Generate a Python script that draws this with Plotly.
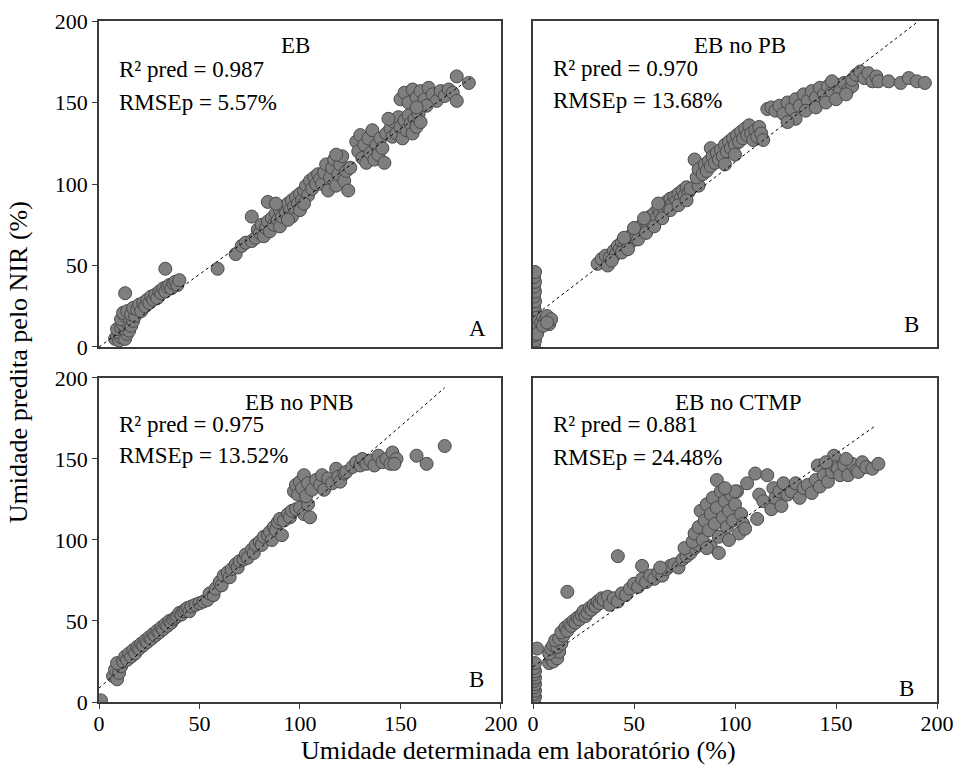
import plotly.graph_objects as go

# ---------------- data ----------------
# Panel A: EB
xa = [8,9,10,11,12,10,13,14,9,11,13,15,12,14,16,11,13,15,17,12,14,16,18,
      13,17,19,20,21,22,23,24,25,26,27,28,29,30,31,32,33,34,35,36,37,38,39,40,
      33,59,68,71,73,76,76,
      78,79,80,81,82,83,84,84,85,86,87,88,89,90,90,91,92,93,94,95,96,96,97,98,99,100,100,101,102,103,104,105,106,107,108,109,110,88,94,102,
      111,112,113,114,115,116,117,118,119,120,121,122,123,124,125,118,
      128,129,130,131,132,133,134,135,136,137,138,139,140,141,142,143,
      145,146,147,148,149,150,151,152,153,154,155,156,157,158,159,160,144,
      150,152,154,156,158,160,162,164,166,168,170,172,174,176,178,178,184,163,158]
ya = [5,7,4,6,8,9,5,8,11,12,11,10,14,15,13,17,19,18,16,21,22,20,19,
      33,24,23,26,22,27,25,29,27,31,29,32,30,34,33,36,34,37,38,36,39,40,38,41,
      48,48,57,62,64,65,80,
      67,72,70,75,68,73,77,89,71,79,75,82,78,84,74,80,86,82,88,84,90,80,86,92,88,94,84,90,96,99,93,102,97,104,100,106,103,88,78,88,
      100,107,112,96,104,110,115,99,106,112,117,102,108,96,110,118,
      126,120,130,116,124,113,128,119,133,115,124,118,128,122,113,131,
      134,129,138,131,141,135,128,139,133,142,137,131,140,135,143,138,140,
      152,156,150,158,153,157,152,159,155,151,157,154,158,156,151,166,162,148,147]

# Panel B: EB no PB
xb = [0.5,1,0.5,1,0.5,1.5,0.5,1,0.5,1,0.5,1,0.5,1,0.5,1,2,2,2,
      4,5,6,7,8,9,5,7,
      32,34,36,38,40,41,42,43,44,45,46,47,48,49,50,51,52,53,54,55,56,57,58,59,60,61,62,63,64,65,66,67,68,69,70,71,72,73,74,75,76,77,78,
      37,39,44,47,52,56,60,64,68,72,76,45,50,55,62,
      82,80,
      81,82,84,85,86,87,88,88,89,90,91,92,93,94,95,96,97,98,99,100,101,102,103,104,105,106,107,108,109,110,111,112,113,114,95,100,
      116,118,120,122,124,126,128,130,132,134,136,138,140,142,144,146,148,150,152,154,156,158,130,135,140,145,150,155,126,148,
      158,160,162,164,166,168,170,
      171,176,182,186,190,194]
yb = [1,4,7,10,13,16,19,22,25,28,31,34,37,40,43,46,12,18,8,
      15,18,16,19,14,17,13,15,
      51,54,56,55,59,57,62,60,64,61,66,63,68,65,70,67,73,70,75,72,78,75,80,77,82,79,85,82,87,84,89,86,91,88,92,90,94,91,96,93,98,95,97,
      50,53,58,60,66,70,74,79,84,87,90,67,73,79,88,
      99,115,
      104,109,106,112,108,114,111,122,117,113,119,115,121,117,124,120,126,122,128,124,130,126,132,128,134,130,136,131,127,133,129,135,131,127,112,118,
      146,147,145,148,143,150,146,152,148,155,151,157,153,159,155,160,156,161,157,162,158,160,140,145,147,150,152,155,138,163,
      164,167,169,165,168,163,166,
      163,163,162,165,163,162]

# Panel C: EB no PNB
xc = [1,
      7,8,9,10,11,9,12,13,14,15,16,17,18,19,20,21,22,23,24,25,26,27,28,29,30,31,32,33,34,35,36,37,38,39,40,41,42,43,44,45,46,48,50,52,54,55,57,58,60,61,62,64,65,66,68,69,70,72,73,74,76,77,78,80,81,82,84,85,86,87,88,89,90,91,92,94,95,96,98,100,102,104,105,
      97,98,99,100,101,102,103,104,106,108,110,111,112,114,116,118,119,120,122,123,
      126,128,130,131,133,135,137,139,141,143,145,146,148,147,
      158,163,172]
yc = [1,
      16,20,14,18,22,24,25,28,26,30,28,32,30,34,33,36,35,38,37,40,39,42,41,44,43,46,45,48,47,50,49,51,52,53,55,54,56,57,58,56,59,60,61,62,63,67,66,70,74,72,78,80,77,82,85,83,87,88,91,89,94,92,97,99,97,102,103,105,100,108,106,111,113,103,112,116,114,118,119,120,116,122,114,
      130,134,128,136,132,140,127,135,131,137,134,140,131,138,135,144,139,136,141,142,
      145,148,146,150,147,149,146,152,148,150,147,154,150,147,
      152,147,158]

# Panel D: EB no CTMP
xd = [0.5,1,0.5,1,0.5,1,0.5,1,0.5,1,0.5,1,2,
      8,9,10,11,12,13,8,9,10,12,14,11,13,15,
      17,
      14,16,17,18,19,20,21,22,23,24,25,26,27,28,29,30,31,32,33,34,35,37,38,40,42,44,46,42,
      48,50,52,54,54,56,58,60,62,64,66,68,70,72,74,63,
      76,78,80,82,75,79,
      80,82,83,84,85,86,87,88,89,90,91,91,92,93,94,95,96,97,98,99,100,101,102,103,104,105,100,95,88,92,86,97,
      106,110,111,112,114,116,118,119,120,122,123,124,126,128,130,132,134,136,138,140,141,142,144,146,148,149,150,151,152,154,156,158,160,161,163,165,168,171,155,145]
yd = [1,3,5,7,9,11,13,15,17,19,21,24,33,
      24,27,25,29,27,31,30,33,35,34,36,38,39,41,
      68,
      43,46,44,48,47,50,49,52,51,54,56,53,55,58,57,60,59,62,61,64,63,65,60,64,62,67,66,90,
      70,73,71,76,84,74,78,76,80,78,82,84,85,83,88,83,
      90,92,95,97,95,99,
      104,108,118,100,112,122,106,116,126,110,137,120,102,130,114,124,108,118,128,112,122,130,104,116,110,107,130,132,96,92,95,100,
      135,141,113,128,124,140,119,132,126,130,121,135,128,130,135,126,132,134,129,137,146,133,140,136,142,152,145,144,140,146,140,147,143,142,148,145,144,147,150,148]

# dashed fit lines (endpoints)
line_a_x, line_a_y = [0, 185], [0, 165]
line_b_x, line_b_y = [0, 191], [18.4, 200]
line_c_x, line_c_y = [0, 172], [8.6, 194]
line_d_x, line_d_y = [0, 169], [21.6, 170]

titles = ["EB", "EB no PB", "EB no PNB", "EB no CTMP"]
r2_texts = ["R² pred = 0.987", "R² pred = 0.970", "R² pred = 0.975", "R² pred = 0.881"]
rmse_texts = ["RMSEp = 5.57%", "RMSEp = 13.68%", "RMSEp = 13.52%", "RMSEp = 24.48%"]
letters = ["A", "B", "B", "B"]
tick_vals = [0, 50, 100, 150, 200]
tick_text = ["0", "50", "100", "150", "200"]

FONT = "Liberation Serif"
fig = go.Figure()

panels = [(xa, ya, line_a_x, line_a_y, "x", "y"),
          (xb, yb, line_b_x, line_b_y, "x2", "y2"),
          (xc, yc, line_c_x, line_c_y, "x3", "y3"),
          (xd, yd, line_d_x, line_d_y, "x4", "y4")]

for px, py, lx, ly, xr, yr in panels:
    fig.add_trace(go.Scatter(x=px, y=py, mode="markers", xaxis=xr, yaxis=yr,
                             marker=dict(size=13, color="#7f7f7f",
                                         line=dict(color="#4a4a4a", width=1)),
                             showlegend=False, cliponaxis=True))
    fig.add_trace(go.Scatter(x=lx, y=ly, mode="lines", xaxis=xr, yaxis=yr,
                             line=dict(color="black", width=1, dash="3px,3px"),
                             showlegend=False))

xdom_l, xdom_r = [0, 0.4797], [0.5179, 1]
ydom_t, ydom_b = [0.5213, 1], [0, 0.4758]

def ax(domain, anchor, show_ticks, is_x=False):
    d = dict(domain=domain, anchor=anchor, range=[0, 200], showgrid=False, zeroline=False,
             showline=True, mirror=True, linecolor="#3a3a3a", linewidth=1.5,
             tickvals=tick_vals, ticktext=tick_text,
             tickfont=dict(family=FONT, size=22, color="black"))
    if show_ticks:
        d.update(ticks="outside", ticklen=5, tickcolor="#3a3a3a", tickwidth=1.2, showticklabels=True)
        if is_x:
            d.update(ticklabelstandoff=-4)
    else:
        d.update(ticks="", showticklabels=False)
    return d

fig.update_layout(
    width=955, height=767,
    margin=dict(l=99, r=18, t=21, b=65, autoexpand=False),
    plot_bgcolor="white", paper_bgcolor="white",
    xaxis=ax(xdom_l, "y", False), yaxis=ax(ydom_t, "x", True),
    xaxis2=ax(xdom_r, "y2", False), yaxis2=ax(ydom_t, "x2", False),
    xaxis3=ax(xdom_l, "y3", True, True), yaxis3=ax(ydom_b, "x3", True),
    xaxis4=ax(xdom_r, "y4", True, True), yaxis4=ax(ydom_b, "x4", False),
    font=dict(family=FONT, color="black"),
)

title_pos = [(98, 185), (102.5, 185), (100, 185), (101.5, 185)]
r2_y = [170, 171, 171, 171]
rm_y = [150, 151.5, 152, 151]
letter_pos = [(188.5, 11.5), (187.5, 13.5), (188, 13.6), (185, 8.6)]
refs = [("x", "y"), ("x2", "y2"), ("x3", "y3"), ("x4", "y4")]

for i, (xr, yr) in enumerate(refs):
    fig.add_annotation(x=title_pos[i][0], y=title_pos[i][1], xref=xr, yref=yr, text=titles[i],
                       showarrow=False, xanchor="center", yanchor="middle",
                       font=dict(family=FONT, size=23, color="black"))
    fig.add_annotation(x=9, y=r2_y[i], xref=xr, yref=yr, text=r2_texts[i],
                       showarrow=False, xanchor="left", yanchor="middle",
                       font=dict(family=FONT, size=23, color="black"))
    fig.add_annotation(x=9, y=rm_y[i], xref=xr, yref=yr, text=rmse_texts[i],
                       showarrow=False, xanchor="left", yanchor="middle",
                       font=dict(family=FONT, size=23, color="black"))
    fig.add_annotation(x=letter_pos[i][0], y=letter_pos[i][1], xref=xr, yref=yr, text=letters[i],
                       showarrow=False, xanchor="center", yanchor="middle",
                       font=dict(family=FONT, size=23, color="black"))

fig.add_annotation(x=0.5, y=-0.0719, xref="paper", yref="paper",
                   text="Umidade determinada em laboratório (%)", showarrow=False,
                   xanchor="center", yanchor="middle",
                   font=dict(family=FONT, size=26, color="black"))
fig.add_annotation(x=-0.0967, y=0.499, xref="paper", yref="paper",
                   text="Umidade predita pelo NIR (%)", showarrow=False, textangle=-90,
                   xanchor="center", yanchor="middle",
                   font=dict(family=FONT, size=26, color="black"))

fig.write_html("out.html", config={"displayModeBar": False},
               post_script="document.body.style.margin='0';document.body.style.overflow='hidden';")
